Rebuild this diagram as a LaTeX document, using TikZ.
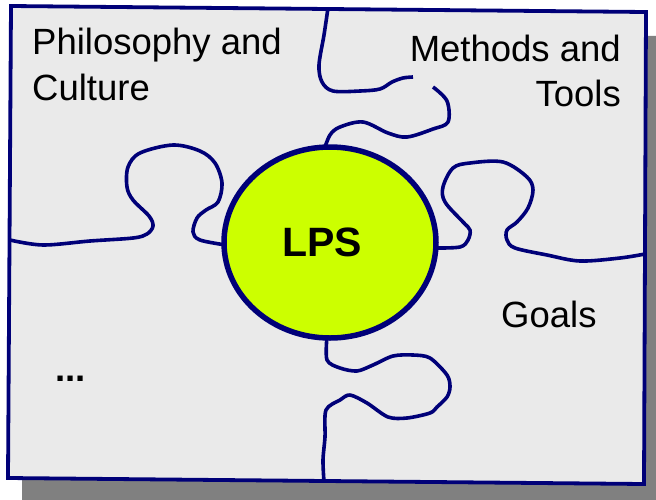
\documentclass[tikz,border=0pt]{standalone}
\usepackage{fontspec}
\setmainfont{Liberation Sans}
\usetikzlibrary{shapes.geometric}
\definecolor{navy}{RGB}{0,0,120}
\definecolor{bg}{RGB}{234,234,234}
\definecolor{lime}{RGB}{204,255,0}
\definecolor{shadowgray}{RGB}{128,128,128}
\begin{document}
\begin{tikzpicture}[x=1pt,y=-1pt,
  txt/.style={inner sep=0pt, font=\fontsize{36.5}{44}\selectfont, text=black},
  puz/.style={draw=navy, line width=3.6pt, line join=round},
  lpsnode/.style={ellipse, draw=navy, line width=5.5pt, fill=lime, minimum width=212pt, minimum height=191pt, inner sep=0pt, font=\fontsize{41}{49}\selectfont\bfseries}
]
\useasboundingbox (0,0) rectangle (656,499);
\clip (0,0) rectangle (656,499);
% shadow
\fill[shadowgray] (22,32) -- (664,36) -- (664,510) -- (22,510) -- cycle;
% board
\draw[navy, line width=3.8pt, fill=bg, line join=miter] (11,6) -- (646,12) -- (644,484) -- (8,478) -- cycle;
% puzzle lines
\draw[puz] plot[smooth, tension=0.55] coordinates {(328,8) (324,35) (319,65) (322,82) (333,91) (360,91) (380,89) (392,82) (403,78) (413,77)};
\draw[puz] plot[smooth, tension=0.55] coordinates {(433,87) (447,101) (448,122) (433,129) (407,137) (388,133) (363,122) (340,127) (330,135) (324,150)};
\draw[puz] plot[smooth, tension=0.55] coordinates {(10,240) (43,245) (90,241) (133,238) (147,234) (153,226) (149,216) (133,200) (127,187) (128,167) (140,153) (173,145) (200,151) (215,163) (222,183) (218,202) (206,210) (197,218) (193,232) (200,240) (226,245)};
\draw[puz] plot[smooth, tension=0.55] coordinates {(435,248) (460,247) (468,240) (470,230) (463,222) (445,202) (443,187) (453,168) (470,163) (503,162) (527,177) (533,190) (528,208) (517,222) (507,230) (507,240) (515,248) (547,255) (580,261) (620,258) (645,254)};
\draw[puz] plot[smooth, tension=0.5] coordinates {(327,336) (327,360) (340,368) (357,371) (373,365) (393,356) (413,355) (430,358) (447,375) (450,387) (447,397) (437,407) (430,413) (407,418) (388,417) (367,403) (350,395) (340,400) (326,410) (325,437) (323,460) (324,482)};
% centre
\node[lpsnode] (lps) at (330,242.5) {LPS\hspace*{16pt}};
% texts
\node[txt, anchor=base west] (pc1) at (32,54.5) {Philosophy and};
\node[txt, anchor=base west] (pc2) at (32,100) {Culture};
\node[txt, anchor=base east] (mt1) at (621,61) {Methods and};
\node[txt, anchor=base east] (mt2) at (621,106) {Tools};
\node[txt, anchor=base west] (goals) at (501,327) {Goals};
\node[txt, anchor=base west, font=\fontsize{36.5}{44}\selectfont\bfseries] (dots) at (55,381) {...};
\end{tikzpicture}
\end{document}
